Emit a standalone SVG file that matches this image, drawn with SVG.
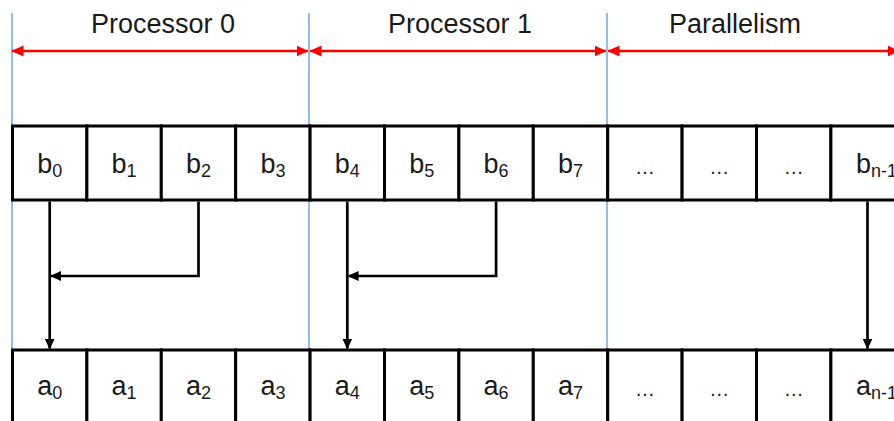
<svg xmlns="http://www.w3.org/2000/svg" width="894" height="421" viewBox="0 0 894 421">
<style>
.bg{fill:#ffffff}
.guide{stroke:#6fa8d6;stroke-width:1.5;fill:none}
.cell{fill:#ffffff;stroke:#000000;stroke-width:3}
.hdr{font-family:"Liberation Sans",Arial,sans-serif;font-size:27px;fill:#1a1a1a;text-anchor:middle}
.lbl{font-family:"Liberation Sans",Arial,sans-serif;font-size:27px;fill:#1a1a1a;text-anchor:middle}
.sub{font-size:18px}
.dots{font-family:"Liberation Sans",Arial,sans-serif;font-size:20px;fill:#1a1a1a;text-anchor:middle}
.red{stroke:#ff0000;stroke-width:2.5;fill:none;marker-start:url(#rh);marker-end:url(#rh)}
.blk{stroke:#000000;stroke-width:2.7;fill:none;marker-end:url(#bh)}
</style>
<defs>
<marker id="rh" markerUnits="userSpaceOnUse" markerWidth="12" markerHeight="11" refX="11.5" refY="5.5" orient="auto-start-reverse">
<path d="M0,0 L12,5.5 L0,11 z" fill="#ff0000"/>
</marker>
<marker id="bh" markerUnits="userSpaceOnUse" markerWidth="11" markerHeight="10" refX="10" refY="5" orient="auto">
<path d="M0,0 L11,5 L0,10 z" fill="#000000"/>
</marker>
</defs>
<rect class="bg" x="0" y="0" width="894" height="421"/>
<g id="guides">
<line class="guide" x1="12" y1="13" x2="12" y2="350"/>
<line class="guide" x1="309" y1="13" x2="309" y2="350"/>
<line class="guide" x1="607" y1="13" x2="607" y2="350"/>
</g>
<g id="headers">
<g id="hdr-p0"><text class="hdr" x="163" y="33">Processor 0</text></g>
<g id="hdr-p1"><text class="hdr" x="460" y="33">Processor 1</text></g>
<g id="hdr-par"><text class="hdr" x="735" y="33">Parallelism</text></g>
</g>
<g id="row-b">
<g id="b0"><rect class="cell" x="12.5" y="126" width="74.4" height="74"/><text class="lbl" x="49.7" y="173">b<tspan class="sub" dy="4">0</tspan></text></g>
<g id="b1"><rect class="cell" x="86.9" y="126" width="74.4" height="74"/><text class="lbl" x="124.1" y="173">b<tspan class="sub" dy="4">1</tspan></text></g>
<g id="b2"><rect class="cell" x="161.3" y="126" width="74.4" height="74"/><text class="lbl" x="198.5" y="173">b<tspan class="sub" dy="4">2</tspan></text></g>
<g id="b3"><rect class="cell" x="235.7" y="126" width="74.4" height="74"/><text class="lbl" x="272.9" y="173">b<tspan class="sub" dy="4">3</tspan></text></g>
<g id="b4"><rect class="cell" x="310.1" y="126" width="74.4" height="74"/><text class="lbl" x="347.3" y="173">b<tspan class="sub" dy="4">4</tspan></text></g>
<g id="b5"><rect class="cell" x="384.5" y="126" width="74.4" height="74"/><text class="lbl" x="421.7" y="173">b<tspan class="sub" dy="4">5</tspan></text></g>
<g id="b6"><rect class="cell" x="458.9" y="126" width="74.4" height="74"/><text class="lbl" x="496.1" y="173">b<tspan class="sub" dy="4">6</tspan></text></g>
<g id="b7"><rect class="cell" x="533.3" y="126" width="74.4" height="74"/><text class="lbl" x="570.5" y="173">b<tspan class="sub" dy="4">7</tspan></text></g>
<g id="b8"><rect class="cell" x="607.7" y="126" width="74.4" height="74"/><text class="dots" x="644.9" y="174">…</text></g>
<g id="b9"><rect class="cell" x="682.1" y="126" width="74.4" height="74"/><text class="dots" x="719.3" y="174">…</text></g>
<g id="b10"><rect class="cell" x="756.5" y="126" width="74.4" height="74"/><text class="dots" x="793.7" y="174">…</text></g>
<g id="bn1"><rect class="cell" x="830.9" y="126" width="80" height="74"/><text class="lbl" x="856" y="173" style="text-anchor:start">b<tspan class="sub" dy="4">n-1</tspan></text></g>
</g>
<g id="row-a">
<g id="a0"><rect class="cell" x="12.5" y="350" width="74.4" height="80"/><text class="lbl" x="49.7" y="395">a<tspan class="sub" dy="4">0</tspan></text></g>
<g id="a1"><rect class="cell" x="86.9" y="350" width="74.4" height="80"/><text class="lbl" x="124.1" y="395">a<tspan class="sub" dy="4">1</tspan></text></g>
<g id="a2"><rect class="cell" x="161.3" y="350" width="74.4" height="80"/><text class="lbl" x="198.5" y="395">a<tspan class="sub" dy="4">2</tspan></text></g>
<g id="a3"><rect class="cell" x="235.7" y="350" width="74.4" height="80"/><text class="lbl" x="272.9" y="395">a<tspan class="sub" dy="4">3</tspan></text></g>
<g id="a4"><rect class="cell" x="310.1" y="350" width="74.4" height="80"/><text class="lbl" x="347.3" y="395">a<tspan class="sub" dy="4">4</tspan></text></g>
<g id="a5"><rect class="cell" x="384.5" y="350" width="74.4" height="80"/><text class="lbl" x="421.7" y="395">a<tspan class="sub" dy="4">5</tspan></text></g>
<g id="a6"><rect class="cell" x="458.9" y="350" width="74.4" height="80"/><text class="lbl" x="496.1" y="395">a<tspan class="sub" dy="4">6</tspan></text></g>
<g id="a7"><rect class="cell" x="533.3" y="350" width="74.4" height="80"/><text class="lbl" x="570.5" y="395">a<tspan class="sub" dy="4">7</tspan></text></g>
<g id="a8"><rect class="cell" x="607.7" y="350" width="74.4" height="80"/><text class="dots" x="644.9" y="396">…</text></g>
<g id="a9"><rect class="cell" x="682.1" y="350" width="74.4" height="80"/><text class="dots" x="719.3" y="396">…</text></g>
<g id="a10"><rect class="cell" x="756.5" y="350" width="74.4" height="80"/><text class="dots" x="793.7" y="396">…</text></g>
<g id="an1"><rect class="cell" x="830.9" y="350" width="80" height="80"/><text class="lbl" x="856" y="395" style="text-anchor:start">a<tspan class="sub" dy="4">n-1</tspan></text></g>
</g>
<g id="connectors">
<line class="red" x1="12" y1="51" x2="308" y2="51"/>
<line class="red" x1="310" y1="51" x2="606" y2="51"/>
<line class="red" x1="608" y1="51" x2="899" y2="51"/>
<line class="blk" x1="49.7" y1="201.5" x2="49.7" y2="348.5"/>
<polyline class="blk" points="198.5,201.5 198.5,276 51,276"/>
<line class="blk" x1="347.3" y1="201.5" x2="347.3" y2="348.5"/>
<polyline class="blk" points="496.1,201.5 496.1,276 348.6,276"/>
<line class="blk" x1="867.5" y1="201.5" x2="867.5" y2="348.5"/>
</g>
</svg>
